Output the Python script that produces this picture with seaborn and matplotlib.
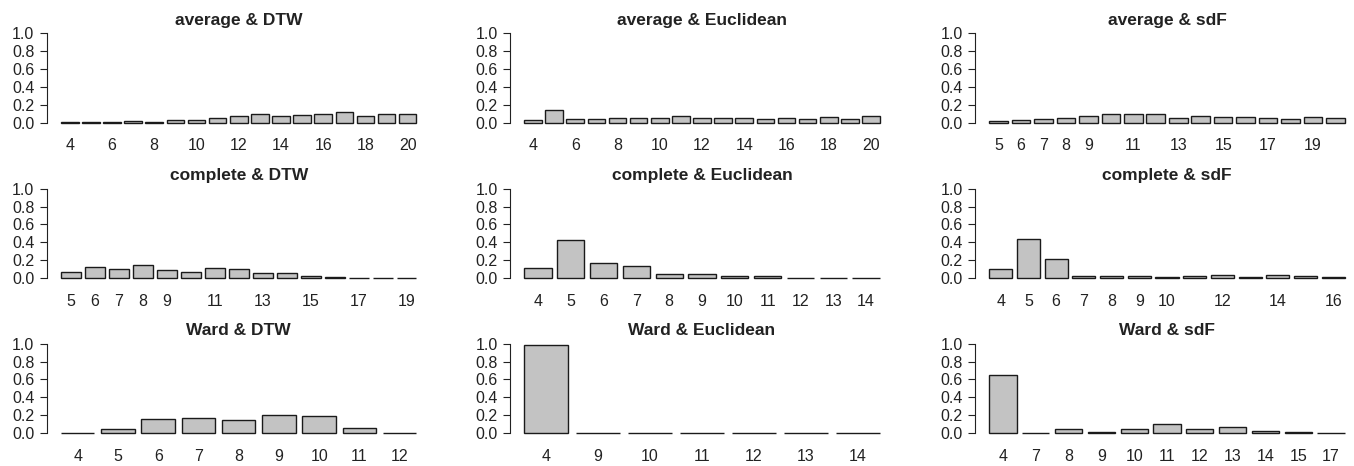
import matplotlib
matplotlib.use("Agg")
import matplotlib.pyplot as plt
import seaborn as sns
import pandas as pd

sns.set_style("white")
plt.rcParams['font.family'] = ['Liberation Sans', 'DejaVu Sans']

# ---------------- data ----------------
titles = ["average & DTW", "average & Euclidean", "average & sdF",
          "complete & DTW", "complete & Euclidean", "complete & sdF",
          "Ward & DTW", "Ward & Euclidean", "Ward & sdF"]

avg_dtw_k = list(range(4, 21))
avg_dtw_v = [0.005, 0.005, 0.005, 0.022, 0.011, 0.026, 0.037, 0.055, 0.078,
             0.093, 0.078, 0.089, 0.100, 0.120, 0.078, 0.096, 0.104]
avg_dtw_show = [4, 6, 8, 10, 12, 14, 16, 18, 20]

avg_euc_k = list(range(4, 21))
avg_euc_v = [0.033, 0.148, 0.044, 0.040, 0.055, 0.055, 0.052, 0.074, 0.052,
             0.055, 0.058, 0.048, 0.050, 0.048, 0.067, 0.048, 0.078]
avg_euc_show = [4, 6, 8, 10, 12, 14, 16, 18, 20]

avg_sdf_k = list(range(5, 21))
avg_sdf_v = [0.025, 0.033, 0.045, 0.058, 0.075, 0.100, 0.095, 0.100, 0.050,
             0.075, 0.068, 0.070, 0.055, 0.048, 0.063, 0.050]
avg_sdf_show = [5, 6, 7, 8, 9, 11, 13, 15, 17, 19]

com_dtw_k = list(range(5, 20))
com_dtw_v = [0.067, 0.130, 0.108, 0.145, 0.090, 0.075, 0.115, 0.105, 0.063,
             0.063, 0.030, 0.010, 0.005, 0.005, 0.005]
com_dtw_show = [5, 6, 7, 8, 9, 11, 13, 15, 17, 19]

com_euc_k = list(range(4, 15))
com_euc_v = [0.115, 0.430, 0.170, 0.140, 0.052, 0.045, 0.022, 0.026, 0.008,
             0.005, 0.005]
com_euc_show = list(range(4, 15))

com_sdf_k = list(range(4, 17))
com_sdf_v = [0.108, 0.440, 0.213, 0.030, 0.020, 0.030, 0.015, 0.026, 0.040,
             0.015, 0.040, 0.030, 0.010]
com_sdf_show = [4, 5, 6, 7, 8, 9, 10, 12, 14, 16]

ward_dtw_k = list(range(4, 13))
ward_dtw_v = [0.005, 0.050, 0.160, 0.175, 0.146, 0.205, 0.195, 0.056, 0.005]
ward_dtw_show = list(range(4, 13))

ward_euc_k = [4, 9, 10, 11, 12, 13, 14]
ward_euc_v = [0.985, 0.003, 0.003, 0.005, 0.003, 0.003, 0.003]
ward_euc_show = [4, 9, 10, 11, 12, 13, 14]

ward_sdf_k = [4, 7, 8, 9, 10, 11, 12, 13, 14, 15, 17]
ward_sdf_v = [0.648, 0.005, 0.045, 0.010, 0.045, 0.098, 0.048, 0.067, 0.020,
              0.012, 0.005]
ward_sdf_show = [4, 7, 8, 9, 10, 11, 12, 13, 14, 15, 17]

panels = [
    (avg_dtw_k, avg_dtw_v, avg_dtw_show),
    (avg_euc_k, avg_euc_v, avg_euc_show),
    (avg_sdf_k, avg_sdf_v, avg_sdf_show),
    (com_dtw_k, com_dtw_v, com_dtw_show),
    (com_euc_k, com_euc_v, com_euc_show),
    (com_sdf_k, com_sdf_v, com_sdf_show),
    (ward_dtw_k, ward_dtw_v, ward_dtw_show),
    (ward_euc_k, ward_euc_v, ward_euc_show),
    (ward_sdf_k, ward_sdf_v, ward_sdf_show),
]
yticks = [0.0, 0.2, 0.4, 0.6, 0.8, 1.0]

# ---------------- layout ----------------
W, H = 1354, 466
fig = plt.figure(figsize=(W / 100, H / 100), dpi=100)
col_left = [46.7, 510, 975]
row_top = [29.7, 185.1, 340.1]
ax_w, ax_h = 384, 96.7
bar_w = 1 / 1.2

for i, (title, (ks, vs, show)) in enumerate(zip(titles, panels)):
    r, c = divmod(i, 3)
    rect = [col_left[c] / W, 1 - (row_top[r] + ax_h) / H, ax_w / W, ax_h / H]
    ax = fig.add_axes(rect)
    df = pd.DataFrame({"k": [str(k) for k in ks], "v": vs})
    sns.barplot(data=df, x="k", y="v", order=df["k"].tolist(), color="#C3C3C3",
                saturation=1, edgecolor="#1a1a1a", linewidth=1.0, width=bar_w,
                ax=ax, errorbar=None)
    n = len(ks)
    rng = (n - 1) + bar_w
    ext = 0.04 * rng
    ax.set_xlim(-bar_w / 2 - ext, n - 1 + bar_w / 2 + ext)
    ax.set_ylim(-0.04, 1.04)
    ax.set_xticks(range(n))
    ax.set_xticklabels([str(k) if k in show else "" for k in ks])
    ax.set_yticks(yticks)
    ax.set_yticklabels([f"{t:.1f}" for t in yticks])
    ax.set_xlabel("")
    ax.set_ylabel("")
    for s in ["top", "right", "bottom"]:
        ax.spines[s].set_visible(False)
    ax.spines["left"].set_bounds(0, 1)
    ax.spines["left"].set_color("#222222")
    ax.spines["left"].set_linewidth(0.8)
    ax.tick_params(axis="x", length=0, pad=8.5, labelsize=11.5, colors="#222222")
    ax.tick_params(axis="y", length=5.3, width=0.8, pad=3.5, labelsize=11.5,
                   colors="#222222", left=True)
    ax.set_title(title, fontsize=12.5, fontweight="bold", pad=3.4, color="#222222")
    ax.set_facecolor("white")
    ax.grid(False)

fig.savefig("out.png", dpi=100, facecolor="white")
